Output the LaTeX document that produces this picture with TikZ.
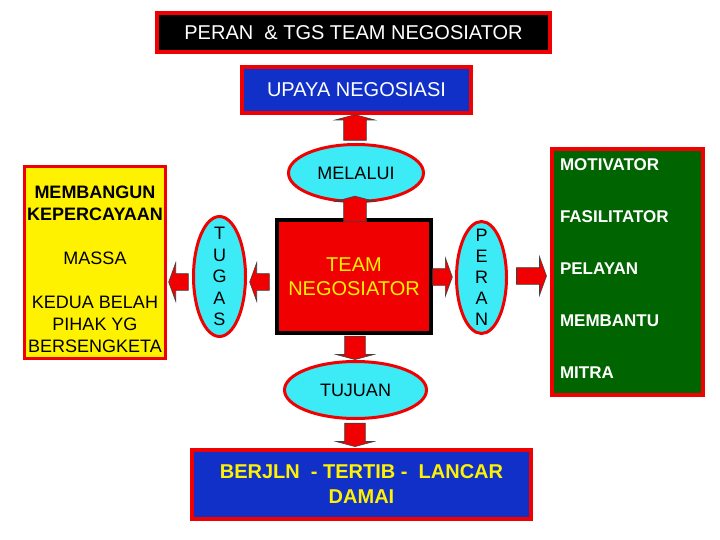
\documentclass[tikz,border=0pt]{standalone}
\usepackage{fontspec}
\setmainfont{Liberation Sans}
\usetikzlibrary{shapes.geometric,shapes.arrows}
\definecolor{biru}{RGB}{16,48,200}
\definecolor{tosca}{RGB}{60,235,245}
\definecolor{hijau}{RGB}{0,100,0}
\definecolor{merah}{RGB}{240,0,0}
\begin{document}
\begin{tikzpicture}[x=1pt, y=-1pt,
  kotak/.style = {shape=rectangle, draw=merah, line width=4pt, inner sep=0pt, align=center},
  oval/.style = {shape=ellipse, draw=merah, line width=3pt, fill=tosca, inner sep=-20pt, align=center},
  panah/.style = {single arrow, fill=merah, draw=black!75, line width=.6pt, inner sep=8pt,
    single arrow head extend=11pt, single arrow tip angle=140},
  panahv/.style = {panah, inner sep=11pt, single arrow head extend=8.5pt, single arrow tip angle=150}]
  \useasboundingbox (0,0) rectangle (720,540);
  \node[kotak, fill=black, text=white, minimum width=393pt, minimum height=39pt,
    font=\fontsize{20}{24}\selectfont] (judul) at (353.5,32.5) {PERAN\ \ \& TGS TEAM NEGOSIATOR};
  \node[kotak, fill=biru, text=white, minimum width=229pt, minimum height=46pt,
    font=\fontsize{20}{24}\selectfont] (upaya) at (356.5,90) {UPAYA NEGOSIASI};
  \node[oval, minimum width=135pt, minimum height=57pt,
    font=\fontsize{18}{22}\selectfont] (melalui) at (356,173) {MELALUI};
  \node[kotak, draw=black, fill=merah, text=yellow, minimum width=154pt, minimum height=113pt,
    font=\fontsize{20}{24}\selectfont] (team) at (354,276.5) {TEAM\\NEGOSIATOR};
  \node[oval, minimum width=142pt, minimum height=57pt,
    font=\fontsize{18}{22}\selectfont] (tujuan) at (355.5,390) {TUJUAN};
  \node[kotak, fill=biru, text=yellow, minimum width=339pt, minimum height=69pt,
    font=\fontsize{20}{25}\selectfont\bfseries] (tertib) at (361.5,484.5) {BERJLN\ \ - TERTIB -\ \ LANCAR\\DAMAI};
  \node[kotak, line width=3pt, fill=yellow, minimum width=141pt, minimum height=192pt,
    font=\fontsize{18}{22}\selectfont] (percaya) at (95,262.5)
    {\rule{0pt}{26pt}\textbf{MEMBANGUN}\\\textbf{KEPERCAYAAN}\\[22pt]MASSA\\[22pt]KEDUA BELAH\\PIHAK YG\\BERSENGKETA};
  \node[oval, minimum width=52pt, minimum height=120pt,
    font=\fontsize{18}{21.5}\selectfont] (tugas) at (219.5,276.5) {T\\U\\G\\A\\S};
  \node[oval, minimum width=50pt, minimum height=112pt,
    font=\fontsize{18}{21}\selectfont] (peran) at (481.5,277.5) {P\\E\\R\\A\\N};
  \node[kotak, fill=hijau, text=white, minimum width=151pt, minimum height=246pt,
    text width=135pt, align=left, font=\fontsize{17}{52}\selectfont\bfseries] (peranan) at (627.5,272)
    {MOTIVATOR\\FASILITATOR\\PELAYAN\\MEMBANTU\\MITRA\rule[-7pt]{0pt}{7pt}};
  \node[panahv, shape border rotate=90, minimum height=17pt] (p1) at (355,129) {};
  \node[panahv, shape border rotate=90, minimum height=15pt] (p2) at (355,210.5) {};
  \node[panahv, inner sep=10pt, shape border rotate=270, minimum height=13pt] (p3) at (355,346.5) {};
  \node[panahv, inner sep=10pt, shape border rotate=270, minimum height=15pt] (p4) at (355,433.5) {};
  \node[panah, shape border rotate=180, minimum height=14pt] (p5) at (180,282) {};
  \node[panah, shape border rotate=180, minimum height=18pt] (p6) at (261,282) {};
  \node[panah, minimum height=18pt] (p7) at (441,277) {};
  \node[panah, minimum height=30pt] (p8) at (530,276) {};
\end{tikzpicture}
\end{document}
